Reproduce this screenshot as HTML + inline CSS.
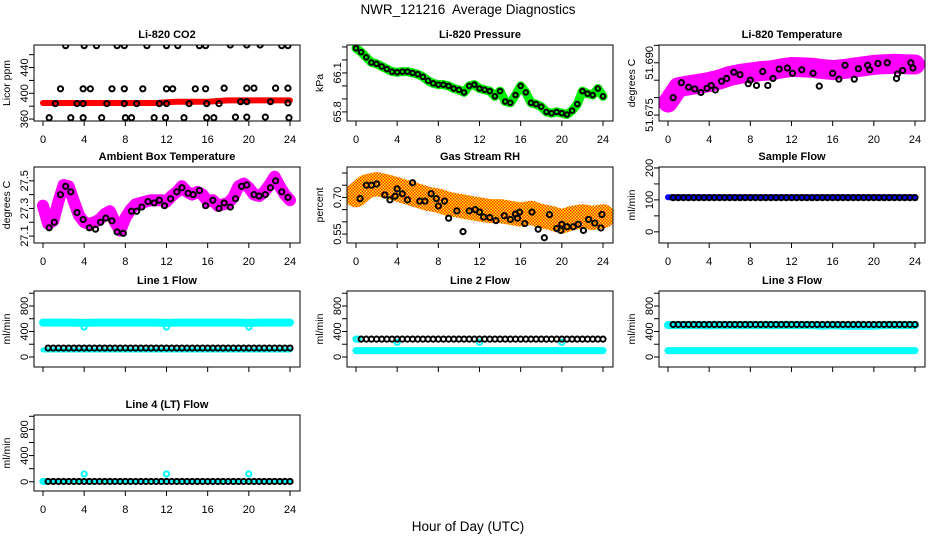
<!DOCTYPE html>
<html><head><meta charset="utf-8"><style>
html,body{margin:0;padding:0;background:#fff}
svg{display:block;font-family:"Liberation Sans",Arial,sans-serif}
</style></head><body>
<svg id="chart" width="936" height="540" viewBox="0 0 936 540" xmlns="http://www.w3.org/2000/svg">
<defs>
<pattern id="rhpat" width="3" height="3" patternUnits="userSpaceOnUse">
<rect width="3" height="3" fill="#ffee00"/><rect x="0" y="0" width="1.5" height="1.5" fill="#ff3000"/><rect x="1.5" y="1.5" width="1.5" height="1.5" fill="#ff3000"/>
</pattern>
</defs>
<text x="468" y="14" text-anchor="middle" font-size="13.5">NWR_121216&#160; Average Diagnostics</text>
<text x="468" y="531" text-anchor="middle" font-size="13.5">Hour of Day (UTC)</text>
</svg>
<script>
// ---- data ----
const xTicks = [0,4,8,12,16,20,24];
const halfHours = [0,0.5,1,1.5,2,2.5,3,3.5,4,4.5,5,5.5,6,6.5,7,7.5,8,8.5,9,9.5,10,10.5,11,11.5,12,12.5,13,13.5,14,14.5,15,15.5,16,16.5,17,17.5,18,18.5,19,19.5,20,20.5,21,21.5,22,22.5,23,23.5,24];
const hours = [0,1,2,3,4,5,6,7,8,9,10,11,12,13,14,15,16,17,18,19,20,21,22,23,24];
const flowT = [0.5,1,1.5,2,2.5,3,3.5,4,4.5,5,5.5,6,6.5,7,7.5,8,8.5,9,9.5,10,10.5,11,11.5,12,12.5,13,13.5,14,14.5,15,15.5,16,16.5,17,17.5,18,18.5,19,19.5,20,20.5,21,21.5,22,22.5,23,23.5,24];

const co2Band = [385,385,385,385,385,385,385,385,385,385,385,385,386,387,387,387,387,388,389,389,389,389,389,389,389];
const co2BlackX = [2.2,4.0,5.2,7.2,7.9,10.1,12.0,13.1,15.2,15.8,18.2,19.8,21.1,23.2,23.8, 1.7,3.9,4.6,6.7,7.9,9.7,12.0,12.6,14.8,15.8,17.6,19.8,20.5,22.6,23.8, 1.2,3.3,3.9,6.2,7.9,9.1,11.3,12.0,14.2,15.9,17.1,19.2,19.8,22.1,23.8, 0.6,2.7,3.9,5.7,8.0,8.6,10.8,11.9,13.7,15.9,16.6,18.7,19.8,21.6,23.9];
const co2BlackY = [474,474,474,474,474,474,474,474,474,474,475,475,475,474,474, 407,407,407,407,407,407,407,407,407,407,408,408,408,408,408, 384,384,384,384,384,384,384,384,384,384,384,387,387,387,385, 362,362,362,362,362,362,362,362,362,362,362,363,363,363,362];

const presBand = [66.29,66.26,66.22,66.18,66.17,66.15,66.13,66.11,66.105,66.11,66.11,66.10,66.09,66.07,66.04,66.02,66.01,66.01,66.0,65.98,65.97,65.95,66.0,66.01,65.98,65.97,65.96,65.92,65.96,65.88,65.87,65.93,66.0,65.95,65.87,65.86,65.84,65.80,65.79,65.80,65.79,65.78,65.81,65.86,65.96,65.94,65.93,65.98,65.92];

const tempBand = [51.6786,51.6830,51.6835,51.6840,51.6845,51.6852,51.6862,51.6868,51.6872,51.6876,51.6878,51.6884,51.6888,51.6887,51.6886,51.6882,51.6879,51.6882,51.6886,51.6890,51.6894,51.6896,51.6897,51.6896,51.6895];
const tempBlackX = [0.5,1.3,2.0,2.6,3.2,3.8,4.2,4.6,5.2,5.7,6.4,7.0,7.8,8.0,8.6,9.2,9.7,10.2,10.8,11.6,12.1,13.0,14.1,14.7,16.0,16.6,17.2,18.1,18.5,19.4,19.6,20.4,21.3,22.2,22.3,22.8,23.6,23.8];
const tempBlackY = [51.6800,51.6843,51.6830,51.6825,51.6815,51.6827,51.6835,51.6822,51.6847,51.6855,51.6873,51.6866,51.6840,51.6850,51.6835,51.6875,51.6835,51.6855,51.6882,51.6885,51.6870,51.6880,51.6870,51.6833,51.6870,51.6853,51.6893,51.6853,51.6883,51.6893,51.6880,51.6898,51.6900,51.6855,51.6868,51.6878,51.6900,51.6885];

const ambBand = [27.32,27.19,27.21,27.35,27.47,27.46,27.35,27.25,27.20,27.19,27.20,27.22,27.26,27.28,27.20,27.14,27.23,27.29,27.33,27.34,27.35,27.36,27.36,27.36,27.35,27.39,27.42,27.46,27.42,27.40,27.42,27.40,27.35,27.36,27.32,27.33,27.34,27.38,27.46,27.48,27.45,27.40,27.39,27.42,27.47,27.53,27.46,27.40,27.36];
const ambBlackX = [0.6,1.1,1.7,2.2,2.7,3.3,3.9,4.5,5.1,5.6,6.1,6.7,7.2,7.8,8.6,9.1,9.6,10.2,10.8,11.3,11.8,12.4,13.0,13.5,14.1,14.6,15.2,15.8,16.5,17.1,17.6,18.2,18.7,19.3,19.8,20.5,21.0,21.6,22.1,22.6,23.2,23.8];
const ambBlackY = [27.16,27.20,27.40,27.46,27.42,27.27,27.22,27.16,27.15,27.20,27.23,27.21,27.13,27.12,27.28,27.28,27.31,27.35,27.34,27.36,27.32,27.37,27.42,27.45,27.41,27.40,27.43,27.32,27.36,27.30,27.34,27.31,27.37,27.46,27.47,27.40,27.39,27.40,27.45,27.50,27.42,27.38];

const rhBand = [0.709,0.745,0.755,0.745,0.733,0.720,0.707,0.694,0.687,0.673,0.666,0.658,0.651,0.644,0.644,0.637,0.630,0.637,0.623,0.616,0.601,0.616,0.623,0.616,0.623];
const rhBlackX = [0.4,1.0,1.5,2.0,2.8,3.3,3.8,4.0,4.5,5.0,5.5,6.2,6.7,7.3,7.8,8.0,8.6,9.0,9.8,10.4,11.0,11.6,12.0,12.4,13.0,13.6,14.4,15.0,15.5,15.7,15.9,16.4,17.1,17.7,18.3,18.8,19.5,19.9,20.0,20.5,21.1,21.6,22.1,22.6,23.2,23.8,23.9];
const rhBlackY = [0.695,0.750,0.750,0.755,0.710,0.690,0.705,0.735,0.715,0.690,0.760,0.685,0.685,0.715,0.695,0.665,0.685,0.615,0.645,0.560,0.645,0.650,0.640,0.620,0.618,0.605,0.625,0.610,0.632,0.615,0.640,0.593,0.640,0.570,0.535,0.630,0.573,0.565,0.590,0.580,0.580,0.590,0.565,0.610,0.595,0.575,0.630];

const sampleBand = [108,108,108,108,108,108,108,108,108,108,108,108,108,108,108,108,108,108,108,108,108,108,108,108,108];
const sampleBlack = [107,107,107,107,107,107,107,107,107,107,107,107,107,107,107,107,107,107,107,107,107,107,107,107,107,107,107,107,107,107,107,107,107,107,107,107,107,107,107,107,107,107,107,107,107,107,107,107];

const line1Hi = [540,540,540,540,535,540,540,540,540,540,540,540,535,540,540,540,540,540,540,540,535,540,540,540,540];
const line1Lo = [110,110,110,110,110,110,110,110,110,110,110,110,110,110,110,110,110,110,110,110,110,110,110,110,110];
const line1Black = [140,140,140,140,140,140,140,140,140,140,140,140,140,140,140,140,140,140,140,140,140,140,140,140,140,140,140,140,140,140,140,140,140,140,140,140,140,140,140,140,140,140,140,140,140,140,140,140];
const line1DipX = [4,12,20];
const line1DipY = [470,470,470];

const line2Lo = [100,100,100,100,100,100,100,100,100,100,100,100,100,100,100,100,100,100,100,100,100,100,100,100,100];
const line2Black = [280,280,280,280,280,280,280,280,280,280,280,280,280,280,280,280,280,280,280,280,280,280,280,280,280,280,280,280,280,280,280,280,280,280,280,280,280,280,280,280,280,280,280,280,280,280,280,280];
const line2CyanX = [0,0.2,4,12,20];
const line2CyanY = [280,280,230,230,230];

const line3Hi = [500,500,500,500,495,500,500,500,500,500,500,500,500,500,500,490,500,490,490,490,490,500,500,500,500];
const line3Lo = [100,100,100,100,100,100,100,100,100,100,100,100,100,100,100,100,100,100,100,100,100,100,100,100,100];
const line3Black = [510,510,510,510,510,510,510,510,510,510,510,510,510,510,510,510,510,510,510,510,510,510,510,510,510,510,510,510,510,510,510,510,510,510,510,510,510,510,510,510,510,510,510,510,510,510,510,510];

const line4Band = [0,0,0,0,0,0,0,0,0,0,0,0,0,0,0,0,0,0,0,0,0,0,0,0,0];
const line4Black = [5,5,5,5,5,5,5,5,5,5,5,5,5,5,5,5,5,5,5,5,5,5,5,5,5,5,5,5,5,5,5,5,5,5,5,5,5,5,5,5,5,5,5,5,5,5,5,5];
const line4SpikeX = [0,0.2,4,12,20];
const line4SpikeY = [5,5,120,120,120];

// ---- layout ----
const NS = "http://www.w3.org/2000/svg";
const svg = document.getElementById('chart');
const defs = svg.querySelector('defs');
const colLeft = [34,347,659], rowTop = [45,167,291,415], BW = 266, BH = 76;
let clipN = 0;
function mk(tag, attrs, parent){ const e=document.createElementNS(NS,tag); for(const k in attrs) e.setAttribute(k,attrs[k]); (parent||svg).appendChild(e); return e; }

function panel(o){
  const L = colLeft[o.col], T = rowTop[o.row];
  const g = mk('g',{});
  
  
  const xs = h => L + 9 + h*(247/24);
  const ys = v => T + BH - (v - o.ylim[0])/(o.ylim[1]-o.ylim[0])*BH;
  const t = mk('text',{x:L+BW/2,y:T-7,'text-anchor':'middle','font-size':'11','font-weight':'bold'},g);
  t.textContent = o.title;
  
  
  const cid = 'clip' + (clipN++);
  const cp = mk('clipPath',{id:cid},defs);
  mk('rect',{x:L,y:T,width:BW,height:BH},cp);
  const plot = mk('g',{'clip-path':`url(#${cid})`},g);
  
  
  o.draw(plot, xs, ys);
  const box = mk('rect',{x:L,y:T,width:BW,height:BH,fill:'none',stroke:'#000','stroke-width':1},g);
  
  
  xTicks.forEach(h=>{
    mk('line',{x1:xs(h),x2:xs(h),y1:T+BH,y2:T+BH+5,stroke:'#000'},g);
    if(o.xlabels){
      const tl = mk('text',{x:xs(h),y:T+BH+22,'text-anchor':'middle','font-size':'11'},g);
      tl.textContent = h;
      
      
    }
  });
  o.yTicks.forEach(v=>{
    mk('line',{x1:L-5,x2:L,y1:ys(v),y2:ys(v),stroke:'#000'},g);
  });
  o.yLabels.forEach(v=>{
    const y=ys(v), x=L-9;
    const tl = mk('text',{x:x,y:y,'text-anchor':'middle','font-size':'11',transform:`rotate(-90 ${x} ${y})`,'dominant-baseline':'central'},g);
    tl.textContent = o.fmt ? o.fmt(v) : v;
    
    
  });
  const yt = mk('text',{x:L-27,y:T+BH/2,'text-anchor':'middle','font-size':'10.5',transform:`rotate(-90 ${L-27} ${T+BH/2})`,'dominant-baseline':'central'},g);
  yt.textContent = o.ylab;
  
  
}
function band(p, xs, ys, X, Y, color, w, name){
  const pts = X.map((h,i)=>xs(h).toFixed(1)+','+ys(Y[i]).toFixed(1)).join(' ');
  const pl = mk('polyline',{points:pts,fill:'none',stroke:color,'stroke-width':w,'stroke-linejoin':'round','stroke-linecap':'round'},p);
  
  
}
function circles(p, xs, ys, X, Y, color, name, r){
  X.forEach((h,i)=>{
    const c = mk('circle',{cx:xs(h),cy:ys(Y[i]),r:r||2.6,fill:'none',stroke:color,'stroke-width':2},p);
    
    
  });
}
const flowTicks=[0,200,400,600,800,1000], flowLabels=[0,400,800];

panel({name:'panel-co2',col:0,row:0,title:'Li-820 CO2',ylab:'Licor ppm',ylim:[357,475],yTicks:[360,380,400,420,440,460],yLabels:[360,400,440],xlabels:true,
  draw:(p,xs,ys)=>{ band(p,xs,ys,hours,co2Band,'#ff0000',6,'co2-red-band'); circles(p,xs,ys,co2BlackX,co2BlackY,'#000','co2-point'); }});
panel({name:'panel-pressure',col:1,row:0,title:'Li-820 Pressure',ylab:'kPa',ylim:[65.73,66.315],yTicks:[65.8,65.9,66.0,66.1,66.2,66.3],yLabels:[65.8,66.1],xlabels:true,fmt:v=>v.toFixed(1),
  draw:(p,xs,ys)=>{ band(p,xs,ys,halfHours,presBand,'#00ee00',9,'pressure-green-band'); circles(p,xs,ys,halfHours,presBand,'#000','pressure-point',2.3); }});
panel({name:'panel-temperature',col:2,row:0,title:'Li-820 Temperature',ylab:'degrees C',ylim:[51.6733,51.6951],yTicks:[51.675,51.680,51.685,51.690,51.695],yLabels:[51.675,51.690],xlabels:true,fmt:v=>v.toFixed(3),
  draw:(p,xs,ys)=>{ band(p,xs,ys,hours,tempBand,'#ff00ff',20,'temperature-magenta-band'); circles(p,xs,ys,tempBlackX,tempBlackY,'#000','temperature-point'); }});
panel({name:'panel-ambient',col:0,row:1,title:'Ambient Box Temperature',ylab:'degrees C',ylim:[27.05,27.6],yTicks:[27.1,27.2,27.3,27.4,27.5],yLabels:[27.1,27.3,27.5],xlabels:true,fmt:v=>v.toFixed(1),
  draw:(p,xs,ys)=>{ band(p,xs,ys,halfHours,ambBand,'#ff00ff',12,'ambient-magenta-band'); circles(p,xs,ys,ambBlackX,ambBlackY,'#000','ambient-point'); }});
panel({name:'panel-rh',col:1,row:1,title:'Gas Stream RH',ylab:'percent',ylim:[0.5135,0.8245],yTicks:[0.55,0.60,0.65,0.70,0.75,0.80],yLabels:[0.55,0.70],xlabels:true,fmt:v=>v.toFixed(2),
  draw:(p,xs,ys)=>{ band(p,xs,ys,hours,rhBand,'url(#rhpat)',24,'rh-orange-band'); circles(p,xs,ys,rhBlackX,rhBlackY,'#000','rh-point'); }});
panel({name:'panel-sample-flow',col:2,row:1,title:'Sample Flow',ylab:'ml/min',ylim:[-35,203],yTicks:[0,50,100,150,200],yLabels:[0,100,200],xlabels:true,
  draw:(p,xs,ys)=>{ band(p,xs,ys,hours,sampleBand,'#0000ff',6,'sample-blue-band'); circles(p,xs,ys,flowT,sampleBlack,'#000','sample-point'); }});
panel({name:'panel-line1',col:0,row:2,title:'Line 1 Flow',ylab:'ml/min',ylim:[-157,1035],yTicks:flowTicks,yLabels:flowLabels,xlabels:false,
  draw:(p,xs,ys)=>{ band(p,xs,ys,hours,line1Hi,'#00ffff',8,'line1-cyan-high'); circles(p,xs,ys,line1DipX,line1DipY,'#00ffff','line1-dip'); band(p,xs,ys,hours,line1Lo,'#00ffff',5,'line1-cyan-low'); circles(p,xs,ys,flowT,line1Black,'#000','line1-point'); }});
panel({name:'panel-line2',col:1,row:2,title:'Line 2 Flow',ylab:'ml/min',ylim:[-157,1035],yTicks:flowTicks,yLabels:flowLabels,xlabels:false,
  draw:(p,xs,ys)=>{ band(p,xs,ys,hours,line2Lo,'#00ffff',7,'line2-cyan-low'); circles(p,xs,ys,line2CyanX,line2CyanY,'#00ffff','line2-cyan-point'); circles(p,xs,ys,flowT,line2Black,'#000','line2-point'); }});
panel({name:'panel-line3',col:2,row:2,title:'Line 3 Flow',ylab:'ml/min',ylim:[-157,1035],yTicks:flowTicks,yLabels:flowLabels,xlabels:false,
  draw:(p,xs,ys)=>{ band(p,xs,ys,hours,line3Hi,'#00ffff',8,'line3-cyan-high'); band(p,xs,ys,hours,line3Lo,'#00ffff',7,'line3-cyan-low'); circles(p,xs,ys,flowT,line3Black,'#000','line3-point'); }});
panel({name:'panel-line4',col:0,row:3,title:'Line 4 (LT) Flow',ylab:'ml/min',ylim:[-141,1020],yTicks:flowTicks,yLabels:flowLabels,xlabels:true,
  draw:(p,xs,ys)=>{ band(p,xs,ys,hours,line4Band,'#00ffff',4,'line4-cyan-band'); circles(p,xs,ys,line4SpikeX,line4SpikeY,'#00ffff','line4-cyan-point'); circles(p,xs,ys,flowT,line4Black,'#000','line4-point'); }});
</script>
</body></html>
